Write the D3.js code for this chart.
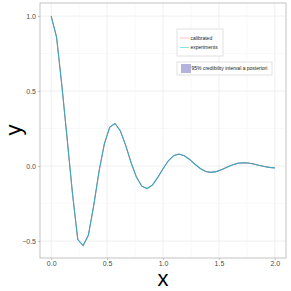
<!DOCTYPE html>
<html>
<head>
<meta charset="utf-8">
<script src="https://cdn.jsdelivr.net/npm/d3@7"></script>
<style>
  body { margin: 0; background: #fff; }
  svg { display: block; font-family: "Liberation Sans", Arial, sans-serif; }
</style>
</head>
<body>
<svg id="chart"></svg>
<script>
// values (43 samples over 0..2)
const xs = [0, 0.048, 0.095, 0.143, 0.190, 0.238, 0.286, 0.333, 0.381, 0.429, 0.476,
            0.524, 0.571, 0.619, 0.667, 0.714, 0.762, 0.810, 0.857, 0.905, 0.952,
            1.000, 1.048, 1.095, 1.143, 1.190, 1.238, 1.286, 1.333, 1.381, 1.429,
            1.476, 1.524, 1.571, 1.619, 1.667, 1.714, 1.762, 1.810, 1.857, 1.905,
            1.952, 2.000];
const calibrated = [1.0, 0.86, 0.54, 0.18, -0.18, -0.49, -0.53, -0.46, -0.26, -0.03, 0.15,
                    0.26, 0.284, 0.234, 0.136, 0.024, -0.073, -0.134, -0.150, -0.127, -0.077,
                    -0.018, 0.035, 0.069, 0.080, 0.069, 0.044, 0.012, -0.016, -0.036, -0.042,
                    -0.037, -0.024, -0.008, 0.007, 0.018, 0.022, 0.020, 0.014, 0.005, -0.003,
                    -0.009, -0.012];
const experiments = calibrated.slice();
const ribbonHalf = 0.004;

const xTicks = [0, 0.5, 1, 1.5, 2];
const yTicks = [-0.5, 0, 0.5, 1];
const xMinor = [0.25, 0.75, 1.25, 1.75];
const yMinor = [-0.25, 0.25, 0.75];

const W = 291, H = 291;
const m = { left: 40, right: 5, top: 3, bottom: 33 };

const svg = d3.select('#chart').attr('width', W).attr('height', H);

const x = d3.scaleLinear().domain([-0.1, 2.1]).range([m.left, W - m.right]);
const y = d3.scaleLinear().domain([-0.613, 1.087]).range([H - m.bottom, m.top]);

const pts = xs.map((v, i) => ({ x: v, c: calibrated[i], e: experiments[i] }));

// grid
const g = svg.append('g');
g.selectAll('.xmin').data(xMinor).enter().append('line')
    .attr('x1', d => x(d)).attr('x2', d => x(d))
    .attr('y1', m.top).attr('y2', H - m.bottom)
    .attr('stroke', '#f2f2f2').attr('stroke-width', 0.5);
g.selectAll('.ymin').data(yMinor).enter().append('line')
    .attr('x1', m.left).attr('x2', W - m.right)
    .attr('y1', d => y(d)).attr('y2', d => y(d))
    .attr('stroke', '#f2f2f2').attr('stroke-width', 0.5);
g.selectAll('.xmaj').data(xTicks).enter().append('line')
    .attr('x1', d => x(d)).attr('x2', d => x(d))
    .attr('y1', m.top).attr('y2', H - m.bottom)
    .attr('stroke', '#ebebeb').attr('stroke-width', 0.8);
g.selectAll('.ymaj').data(yTicks).enter().append('line')
    .attr('x1', m.left).attr('x2', W - m.right)
    .attr('y1', d => y(d)).attr('y2', d => y(d))
    .attr('stroke', '#ebebeb').attr('stroke-width', 0.8);

// ribbon
svg.append('path').datum(pts)
    .attr('d', d3.area().x(d => x(d.x)).y0(d => y(d.e - ribbonHalf)).y1(d => y(d.e + ribbonHalf)))
    .attr('fill', '#b3b3de').attr('fill-opacity', 0.4);

svg.append('path').datum(pts)
    .attr('d', d3.line().x(d => x(d.x)).y(d => y(d.c)))
    .attr('fill', 'none').attr('stroke', '#F8766D').attr('stroke-width', 1);

svg.append('path').datum(pts)
    .attr('d', d3.line().x(d => x(d.x)).y(d => y(d.e)))
    .attr('fill', 'none').attr('stroke', '#36a9c6').attr('stroke-width', 1.1);

// panel border
svg.append('rect')
    .attr('x', m.left).attr('y', m.top)
    .attr('width', W - m.left - m.right).attr('height', H - m.top - m.bottom)
    .attr('fill', 'none').attr('stroke', '#b3b3b3').attr('stroke-width', 0.8);

// axes
const xAxis = svg.append('g').attr('transform', `translate(0,${H - m.bottom})`)
    .call(d3.axisBottom(x).tickValues(xTicks).tickFormat(d3.format('.1f')).tickSize(2).tickPadding(1.5));
const yAxis = svg.append('g').attr('transform', `translate(${m.left},0)`)
    .call(d3.axisLeft(y).tickValues(yTicks).tickFormat(d3.format('.1f')).tickSize(2).tickPadding(2));
[xAxis, yAxis].forEach(a => {
    a.select('.domain').remove();
    a.selectAll('line').attr('stroke', '#b3b3b3').attr('stroke-width', 0.8);
    a.selectAll('text').attr('fill', '#4d4d4d').style('font-size', '7px');
});
yAxis.selectAll('text').text(d => d < 0 ? '\u22120.5' : d3.format('.1f')(d));

// axis titles
svg.append('text').attr('x', x(1)).attr('y', 286)
    .attr('text-anchor', 'middle').style('font-size', '22px').text('x');
svg.append('text').attr('transform', `translate(21,${y(0.24)}) rotate(-90)`)
    .attr('text-anchor', 'middle').style('font-size', '22px').text('y');

// legend 1
const lg = svg.append('g');
lg.append('rect').attr('x', 177).attr('y', 29).attr('width', 46).attr('height', 27)
    .attr('fill', '#fff').attr('stroke', '#cccccc').attr('stroke-width', 0.6);
const keys = [['calibrated', '#F8766D', 38], ['experiments', '#00BFC4', 47.5]];
keys.forEach(k => {
    lg.append('line').attr('x1', 180).attr('x2', 189).attr('y1', k[2]).attr('y2', k[2])
        .attr('stroke', k[1]).attr('stroke-opacity', 0.6).attr('stroke-width', 0.8);
    lg.append('text').attr('x', 190.5).attr('y', k[2] + 1.7)
        .style('font-size', '5px').attr('fill', '#1a1a1a').text(k[0]);
});

// legend 2
lg.append('rect').attr('x', 177).attr('y', 62).attr('width', 95).attr('height', 13)
    .attr('fill', '#fff').attr('stroke', '#cccccc').attr('stroke-width', 0.6);
lg.append('rect').attr('x', 181).attr('y', 64).attr('width', 10).attr('height', 9)
    .attr('fill', '#b3b3de');
lg.append('text').attr('x', 191.5).attr('y', 70.3)
    .style('font-size', '5px').attr('fill', '#1a1a1a').text('95% credibility interval a posteriori');
</script>
</body>
</html>
